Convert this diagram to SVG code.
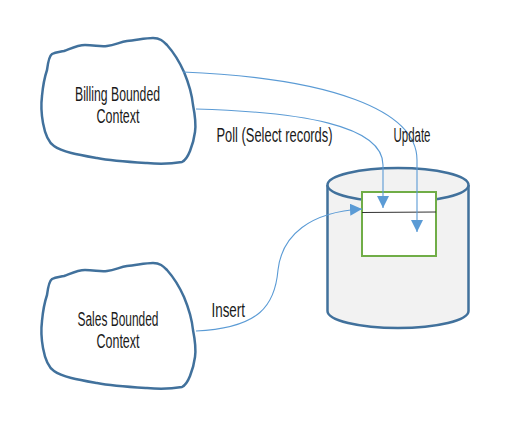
<svg xmlns="http://www.w3.org/2000/svg" width="528" height="444" viewBox="0 0 528 444">
<style>
.blob{fill:#ffffff;stroke:#41719c;stroke-width:2.5;stroke-linejoin:round}
.txt{font-family:"Liberation Sans",Arial,sans-serif;font-size:19.5px;fill:#1a1a1a;text-anchor:middle}
.lbl{font-family:"Liberation Sans",Arial,sans-serif;font-size:19.5px;fill:#1a1a1a}
.conn{fill:none;stroke:#5b9bd5;stroke-width:1.1}
.cyl{fill:#f2f2f2;stroke:#41719c;stroke-width:2.5}
</style>
<defs>
<path id="blobShape" d="M52,54 C56,52 60,52 64,51 C72,48 78,45 85,45 C95,45 100,47 107,46 C115,45 120,42 127,41 C137,40 146,38 153,38 C160,38 163,41 167,45 C175,54 180,63 184,72 C189,84 192,95 193,105 C195,115 196,125 195,132 C194,140 192,146 190,151 C188,156 186,160 182,162 C170,164 158,164 147,163 C130,162 112,161 97,158 C80,155 62,152 54,146 C48,142 45,134 43,123 C41,112 41,104 42,96 C43,85 45,76 47,70 C48,62 49,56 52,54 Z"/>
<marker id="arr" markerUnits="userSpaceOnUse" markerWidth="12" markerHeight="12" refX="12" refY="6" orient="auto" viewBox="0 0 12 12">
<path d="M0,0 L12,6 L0,12 Z" fill="#5b9bd5"/>
</marker>
</defs>
<g id="database">
<path class="cyl" d="M327.5,185 L327.5,311 A70.5,17 0 0 0 468.5,311 L468.5,185"/>
<ellipse class="cyl" cx="398" cy="185" rx="70.5" ry="17" fill="#f5f5f5"/>
</g>
<g id="table">
<rect x="362" y="192" width="74" height="64" fill="#ffffff" stroke="#70ad47" stroke-width="2"/>
<line x1="362" y1="212.5" x2="436" y2="212" stroke="#333333" stroke-width="1.2"/>
</g>
<g id="billing">
<use href="#blobShape" class="blob"/>
<text class="txt" x="117.5" y="100.5" textLength="85" lengthAdjust="spacingAndGlyphs">Billing Bounded</text>
<text class="txt" x="118" y="122.5" textLength="43" lengthAdjust="spacingAndGlyphs">Context</text>
</g>
<g id="sales">
<use href="#blobShape" class="blob" transform="translate(0,225)"/>
<text class="txt" x="118" y="325.5" textLength="81" lengthAdjust="spacingAndGlyphs">Sales Bounded</text>
<text class="txt" x="118" y="347.5" textLength="43" lengthAdjust="spacingAndGlyphs">Context</text>
</g>
<g id="connectors">
<path class="conn" d="M183,72 C330,78 417,110 417,160 L417,232" marker-end="url(#arr)"/>
<path class="conn" d="M196,109 C300,112 383,125 383,165 L383,208" marker-end="url(#arr)"/>
<path class="conn" d="M196,331 C260,328 275,305 278,270 C282,235 310,212 362,209" marker-end="url(#arr)"/>
<text class="lbl" x="216.5" y="141.5" textLength="116" lengthAdjust="spacingAndGlyphs">Poll (Select records)</text>
<text class="lbl" x="393.5" y="141.5" textLength="37" lengthAdjust="spacingAndGlyphs">Update</text>
<text class="lbl" x="211.5" y="316.5" textLength="33.5" lengthAdjust="spacingAndGlyphs">Insert</text>
</g>
</svg>
